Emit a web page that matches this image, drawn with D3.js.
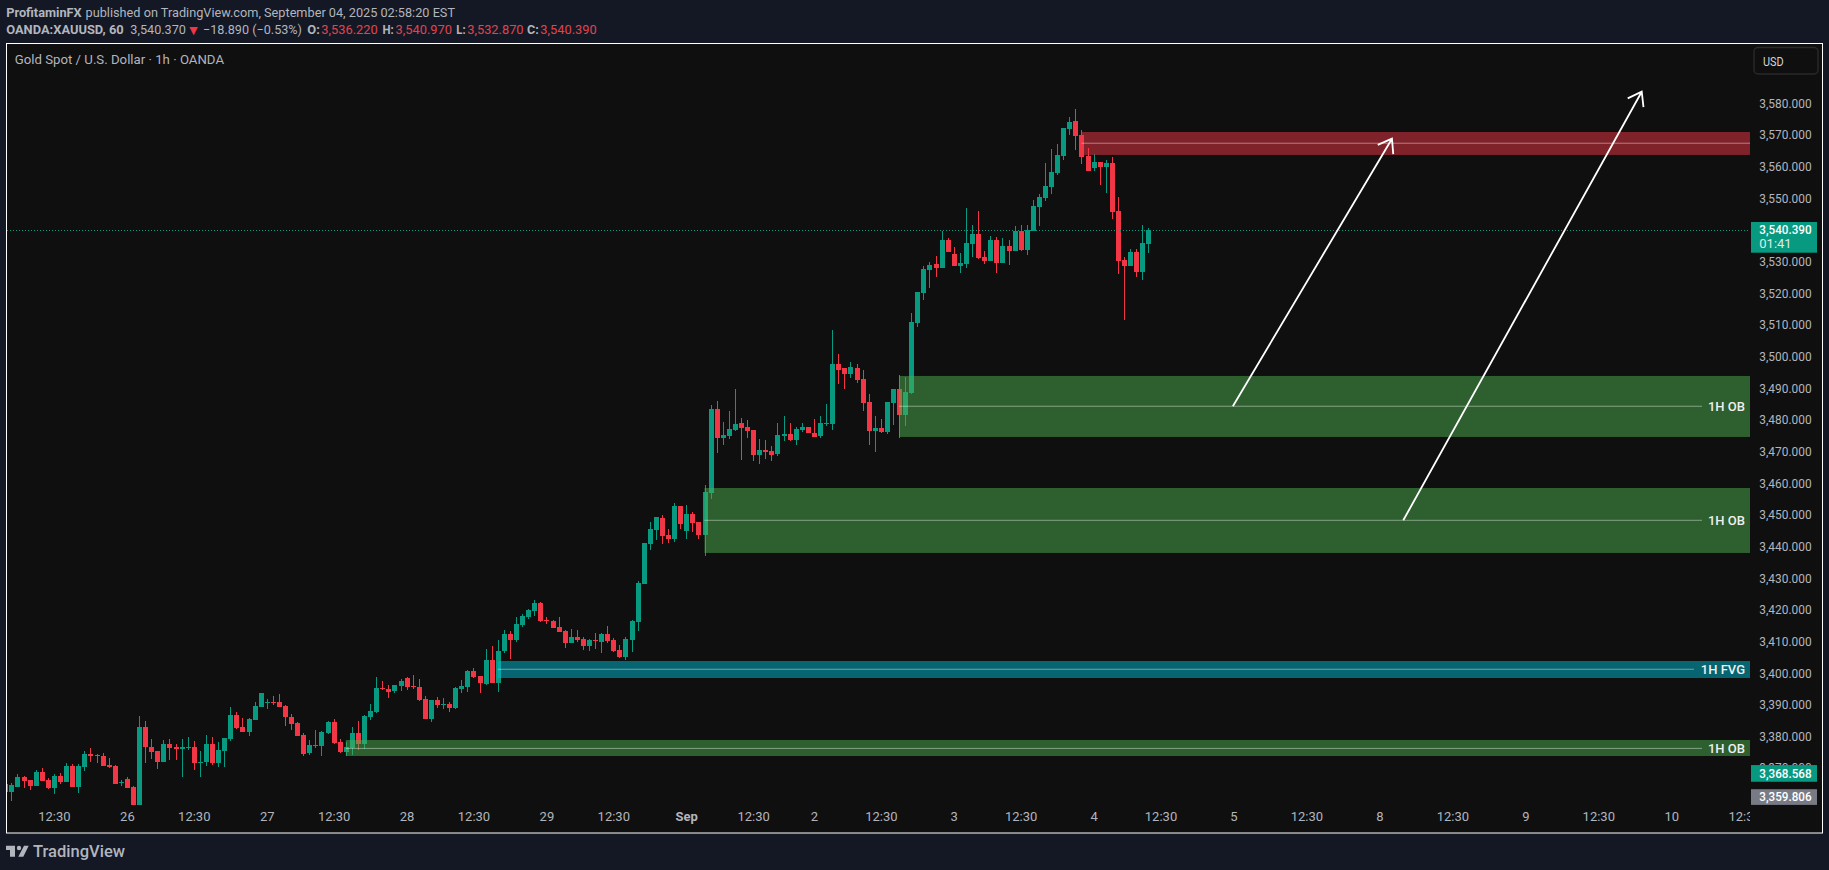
<!DOCTYPE html>
<html><head><meta charset="utf-8">
<script src="https://cdn.jsdelivr.net/npm/d3@7/dist/d3.min.js"></script>
<style>html,body{margin:0;padding:0;background:#131824;overflow:hidden}svg{display:block;font-family:Roboto,sans-serif}</style>
</head><body><svg id="c" width="1829" height="870"></svg>
<script>
const opens=[3365.4,3363.0,3364.5,3367.7,3366.7,3364.8,3369.2,3366.7,3364.2,3368.0,
3366.1,3371.1,3364.5,3370.8,3374.9,3374.7,3374.3,3371.5,3371.1,3365.8,
3367.0,3364.5,3358.8,3383.5,3377.1,3375.9,3372.4,3378.1,3377.1,3376.5,
3376.8,3377.1,3372.1,3372.4,3378.1,3372.1,3375.9,3379.7,3387.3,3383.5,
3381.9,3385.7,3389.8,3391.1,3391.4,3391.4,3390.1,3386.6,3384.7,3380.9,
3375.2,3377.5,3377.5,3381.6,3385.0,3378.7,3375.6,3376.8,3381.5,3378.1,
3386.6,3388.2,3395.8,3395.5,3394.8,3396.4,3398.9,3396.4,3396.1,3392.3,
3386.0,3392.0,3390.4,3390.7,3389.5,3395.5,3396.1,3401.1,3399.6,3397.0,
3404.6,3397.4,3407.5,3412.8,3410.9,3415.7,3418.2,3420.1,3422.6,3417.3,
3416.9,3415.0,3413.8,3410.0,3411.9,3411.3,3409.1,3410.9,3410.3,3412.8,
3410.9,3407.8,3405.6,3410.9,3416.6,3428.6,3441.3,3445.7,3449.5,3444.1,
3442.9,3453.3,3445.4,3450.8,3448.2,3444.1,3457.4,3484.0,3474.8,3475.4,
3477.3,3479.5,3478.3,3477.3,3469.4,3471.0,3470.7,3469.7,3475.4,3476.0,
3474.2,3477.3,3478.3,3476.4,3475.4,3479.2,3479.2,3498.2,3496.9,3495.0,
3496.9,3493.4,3486.2,3477.0,3477.9,3476.7,3485.8,3490.2,3482.1,3489.0,
3511.1,3520.6,3527.9,3529.7,3528.5,3537.3,3532.9,3529.1,3529.7,3536.1,
3539.2,3531.9,3530.7,3537.3,3530.1,3535.4,3533.8,3540.2,3534.2,3540.2,
3547.7,3550.6,3554.1,3558.5,3563.9,3572.4,3574.9,3570.5,3563.9,3560.1,
3562.0,3560.4,3561.7,3546.5,3531.0,3529.1,3533.5,3527.2,3536.1];
const highs=[3366.1,3365.8,3368.5,3368.1,3366.7,3370.0,3370.5,3367.3,3368.6,3368.9,
3372.0,3371.8,3371.8,3375.9,3376.8,3374.9,3375.2,3373.7,3371.5,3366.7,
3367.7,3364.8,3386.9,3385.3,3379.7,3375.9,3379.3,3379.7,3378.1,3379.7,
3380.3,3379.0,3375.9,3380.9,3380.3,3378.7,3380.0,3389.8,3388.2,3386.3,
3386.3,3391.4,3394.2,3392.3,3393.2,3393.9,3390.4,3387.6,3385.0,3381.6,
3379.3,3382.5,3382.2,3385.3,3386.0,3379.7,3378.7,3383.4,3385.3,3387.2,
3390.7,3399.2,3398.0,3396.7,3396.7,3398.6,3399.2,3399.9,3398.6,3393.2,
3392.0,3392.9,3392.6,3391.3,3396.1,3398.3,3401.5,3402.1,3399.6,3408.1,
3409.1,3410.9,3414.1,3413.8,3418.2,3419.2,3420.7,3423.6,3422.9,3418.2,
3417.3,3418.2,3414.1,3414.4,3414.1,3411.9,3411.3,3413.2,3413.2,3415.4,
3411.6,3409.4,3411.9,3417.3,3429.6,3441.6,3448.2,3449.8,3450.5,3446.0,
3454.2,3453.3,3453.6,3451.4,3448.2,3459.9,3485.2,3486.5,3479.8,3483.3,
3490.2,3481.1,3480.5,3477.3,3474.5,3474.2,3472.2,3479.5,3481.7,3479.5,
3478.3,3479.5,3478.3,3480.8,3481.7,3485.5,3508.9,3501.3,3496.9,3498.8,
3498.2,3496.3,3488.7,3481.7,3480.8,3486.2,3490.2,3494.7,3494.1,3514.3,
3520.9,3529.1,3530.4,3532.3,3540.2,3538.0,3535.1,3533.2,3547.4,3542.1,
3546.5,3533.8,3538.6,3538.3,3538.0,3537.3,3541.8,3542.1,3542.1,3550.0,
3551.9,3561.7,3566.1,3567.7,3572.7,3576.2,3578.7,3572.1,3566.4,3564.5,
3562.0,3562.6,3563.6,3550.9,3531.9,3534.5,3534.5,3542.1,3541.1];
const lows=[3362.5,3360.1,3364.5,3364.3,3363.6,3364.8,3366.4,3363.9,3362.3,3365.4,
3366.1,3364.5,3362.6,3369.6,3372.4,3372.1,3371.1,3370.5,3365.4,3364.8,
3364.2,3358.8,3358.8,3372.1,3373.3,3370.2,3372.4,3373.0,3373.0,3367.7,
3376.2,3369.9,3367.7,3371.1,3371.5,3370.8,3370.8,3379.0,3382.8,3381.9,
3380.6,3385.7,3389.8,3389.1,3390.4,3389.8,3383.8,3382.5,3380.6,3374.3,
3374.6,3376.8,3374.3,3381.2,3378.1,3375.2,3374.3,3374.6,3376.2,3376.5,
3385.7,3387.9,3395.2,3392.6,3394.2,3394.8,3395.2,3395.5,3391.7,3386.0,
3385.0,3389.5,3389.1,3388.2,3389.1,3394.2,3394.5,3398.9,3394.2,3396.7,
3397.4,3394.5,3406.8,3404.9,3410.3,3415.0,3417.6,3418.5,3416.6,3416.0,
3414.7,3413.5,3408.4,3410.0,3410.3,3407.8,3407.5,3408.1,3406.8,3410.0,
3407.1,3405.2,3404.6,3407.1,3413.8,3428.6,3439.4,3442.5,3441.3,3441.6,
3441.9,3446.0,3442.9,3445.1,3442.9,3437.5,3455.5,3470.0,3472.6,3474.5,
3477.0,3467.8,3474.8,3467.5,3466.6,3468.1,3467.5,3469.1,3473.8,3473.8,
3472.6,3476.7,3476.4,3475.1,3474.8,3478.6,3477.3,3491.8,3490.2,3493.7,
3492.2,3483.3,3472.6,3470.4,3476.4,3476.0,3478.9,3474.8,3478.6,3488.7,
3509.8,3518.4,3522.2,3525.6,3528.5,3533.5,3529.1,3526.9,3528.5,3531.9,
3531.3,3529.7,3530.7,3526.9,3530.1,3529.4,3533.8,3533.8,3532.6,3540.2,
3541.8,3549.6,3551.9,3557.9,3562.6,3570.5,3565.8,3561.3,3559.1,3559.1,
3554.7,3552.2,3544.0,3526.6,3512.1,3529.1,3525.6,3524.7,3533.2];
const closes=[3363.0,3365.1,3367.7,3366.4,3364.8,3369.2,3366.4,3364.2,3368.0,3366.1,
3371.1,3364.5,3371.1,3374.9,3374.3,3374.4,3371.1,3370.8,3365.4,3366.1,
3364.2,3358.8,3383.5,3377.1,3375.6,3372.4,3378.1,3376.8,3376.5,3377.1,
3377.1,3372.1,3372.4,3378.1,3372.1,3376.2,3380.0,3387.3,3383.1,3381.9,
3386.0,3390.1,3394.2,3391.4,3391.0,3389.8,3386.6,3384.4,3380.6,3374.9,
3377.8,3377.8,3381.9,3385.0,3378.4,3375.6,3377.1,3381.5,3378.1,3386.9,
3388.5,3395.8,3395.5,3394.5,3396.7,3398.0,3396.1,3396.1,3392.0,3386.0,
3392.0,3390.4,3390.7,3389.5,3395.8,3396.4,3401.1,3399.2,3397.4,3404.6,
3397.4,3407.5,3412.8,3410.9,3416.0,3418.5,3420.4,3422.6,3416.9,3416.9,
3414.7,3413.5,3410.0,3411.9,3410.9,3409.1,3410.9,3410.6,3412.8,3410.6,
3407.5,3405.6,3411.3,3416.9,3429.0,3441.6,3446.0,3449.8,3443.8,3442.9,
3453.3,3447.6,3450.8,3447.9,3444.1,3457.7,3484.0,3474.8,3475.7,3477.6,
3479.2,3477.9,3477.0,3469.4,3471.0,3470.4,3469.4,3475.7,3476.0,3474.2,
3477.6,3478.3,3476.4,3475.1,3479.5,3479.5,3498.2,3496.3,3495.0,3497.2,
3493.1,3485.8,3477.0,3477.9,3476.7,3486.2,3490.2,3482.1,3489.3,3511.4,
3520.9,3528.2,3529.4,3528.5,3537.3,3533.5,3529.1,3530.1,3536.4,3539.2,
3531.6,3530.7,3537.3,3530.1,3535.4,3533.8,3540.2,3534.2,3540.5,3548.1,
3550.9,3554.4,3558.8,3564.2,3572.7,3574.6,3570.2,3563.6,3559.1,3562.0,
3560.4,3561.7,3546.2,3530.7,3529.1,3533.5,3527.2,3536.4,3540.4];

const priceTicks=[3580,3570,3560,3550,3530,3520,3510,3500,3490,3480,3470,3460,3450,3440,3430,3420,3410,3400,3390,3380,3370];
const timeTickBars=[8,20,31,43,54,66,77,89,100,112,123,133,144,156,167,179,190,202,214,226,238,250,262,274,286];
const timeTickLabels=["12:30","26","12:30","27","12:30","28","12:30","29","12:30","Sep","12:30","2","12:30","3","12:30","4","12:30","5","12:30","8","12:30","9","12:30","10","12:30"];

const zoneStarts=[177,147,115,81,56];
const zoneTops=[3571.45,3494.37,3458.98,3404.31,3379.35];
const zoneBottoms=[3564.2,3475.09,3438.44,3398.94,3374.29];
const zoneMids=[3567.9,3484.8,3448.76,3401.7,3376.7];
const zoneLabels=["","1H OB","1H OB","1H FVG","1H OB"];
const zoneFills=["rgba(242,54,69,.5)","rgba(76,175,80,.5)","rgba(76,175,80,.5)","rgba(0,188,212,.5)","rgba(76,175,80,.5)"];

const arrowFromBar=[201.9,229.93], arrowFromPrice=[3484.8,3448.76];
const arrowToBar=[228.07,269.15], arrowToPrice=[3569.33,3584.18];

const lastPrice=3540.39, lastClock="01:41", tagGreen=3368.568, tagGray=3359.806;

const UP="#089981",DOWN="#f23645",TXT="#b2b5be";
const x=d3.scaleLinear().domain([0,300]).range([5.3,5.3+300*6.08]);
const y=d3.scaleLinear().domain([3580,3380]).range([230.3-39.61*3.165,230.3+160.39*3.165]);
const svg=d3.select("#c");
const defs=svg.append("defs");
defs.append("clipPath").attr("id","plot").append("rect").attr("x",7).attr("y",44).attr("width",1743).attr("height",789);

// chart panel
svg.append("rect").attr("x",6.5).attr("y",43.5).attr("width",1816).attr("height",789.5)
  .attr("fill","#0f0f0f").attr("stroke","#fff").attr("stroke-width",1);

// header
function t(txt,px,py,o={}){const e=svg.append("text").attr("x",px).attr("y",py).text(txt)
  .attr("font-size",o.s||12).attr("font-weight",o.w||400).attr("fill",o.c||TXT).attr("text-anchor",o.a||"start");
  if(o.l) e.attr("textLength",o.l).attr("lengthAdjust","spacingAndGlyphs");
  if(o.f) e.attr("font-family",o.f);
  return e;}
t("ProfitaminFX",6.2,16.5,{w:700,s:13,l:75.5});
t("published on TradingView.com, September 04, 2025 02:58:20 EST",85.6,16.5,{s:13,l:369.4});
t("OANDA:XAUUSD, 60",6.2,33.7,{w:700,s:13,l:117.5});
t("3,540.370",130.3,33.7,{s:13,l:55.7});
t("▼",189.3,33.5,{c:DOWN,s:11,f:"DejaVu Sans"});
t("−18.890 (−0.53%)",203,33.7,{s:13,l:99});
[["O:",307.3,"3,536.220",321.3,12.5],["H:",382.4,"3,540.970",395.6,11.3],["L:",456.3,"3,532.870",467.2,9.3],["C:",527,"3,540.390",540.3,11.8]].forEach(r=>{
  t(r[0],r[1],33.7,{w:700,s:13,l:r[4]}); t(r[2],r[3],33.7,{c:"#e0444e",s:13,l:56.4});
});
t("Gold Spot / U.S. Dollar · 1h · OANDA",14.8,64.3,{s:13,l:209.2});

// candles
const plot=svg.append("g").attr("clip-path","url(#plot)").attr("shape-rendering","crispEdges");
const bars=d3.range(opens.length);
const col=i=>closes[i]>=opens[i]?UP:DOWN;
const x0=i=>Math.round(x(i))-2;
plot.selectAll(".w").data(bars).join("rect").attr("class","w")
  .attr("x",i=>x0(i)+2).attr("width",1)
  .attr("y",i=>y(highs[i])).attr("height",i=>Math.max(1,y(lows[i])-y(highs[i]))).attr("fill",col);
plot.selectAll(".b").data(bars).join("rect").attr("class","b")
  .attr("x",x0).attr("width",5)
  .attr("y",i=>y(Math.max(opens[i],closes[i])))
  .attr("height",i=>Math.max(1,Math.abs(y(opens[i])-y(closes[i])))).attr("fill",col);

// last price line
svg.append("line").attr("x1",7).attr("x2",1750).attr("y1",Math.round(y(lastPrice))+0.5).attr("y2",Math.round(y(lastPrice))+0.5)
  .attr("stroke",UP).attr("stroke-width",1).attr("stroke-dasharray","1,2");

// zones
const zg=svg.append("g").attr("clip-path","url(#plot)");
zoneStarts.forEach((s,i)=>{
  const zx=x(s);
  zg.append("rect").attr("x",zx).attr("width",1750-zx).attr("y",y(zoneTops[i])).attr("height",y(zoneBottoms[i])-y(zoneTops[i])).attr("fill",zoneFills[i]);
  const lab=zoneLabels[i];
  const end=lab==="" ?1750:(lab==="1H FVG"?1694:1702);
  zg.append("line").attr("x1",zx).attr("x2",end).attr("y1",y(zoneMids[i])).attr("y2",y(zoneMids[i]))
    .attr("stroke","rgba(255,255,255,.42)").attr("stroke-width",1);
  if(lab) zg.append("text").attr("x",1745).attr("y",y(zoneMids[i])+4.4).attr("text-anchor","end")
    .attr("font-size",13).attr("font-weight",500).attr("fill","#eef0f0").text(lab);
});

// arrows
arrowFromBar.forEach((b,i)=>{
  const a=[x(b),y(arrowFromPrice[i])],c=[x(arrowToBar[i]),y(arrowToPrice[i])];
  const ang=Math.atan2(c[1]-a[1],c[0]-a[0]),L=15.5,sp=0.62;
  const h1=[c[0]-L*Math.cos(ang-sp),c[1]-L*Math.sin(ang-sp)],h2=[c[0]-L*Math.cos(ang+sp),c[1]-L*Math.sin(ang+sp)];
  svg.append("path").attr("d",d3.line()([a,c])+d3.line()([h1,c,h2])).attr("fill","none")
    .attr("stroke","#fff").attr("stroke-width",1.8);
});

// price axis
const axR=d3.axisRight(y).tickValues(priceTicks).tickSize(0).tickPadding(0).tickFormat(d3.format(",.3f"));
const gR=svg.append("g").attr("transform","translate(1759.3,-1.8)").call(axR);
gR.select(".domain").remove();
gR.selectAll("text").attr("font-family","Roboto,sans-serif").attr("font-size",13).attr("fill",TXT)
  .attr("textLength",52.3).attr("lengthAdjust","spacingAndGlyphs");

// time axis
const axB=d3.axisBottom(x).tickValues(timeTickBars).tickSize(0).tickPadding(0)
  .tickFormat((d,i)=>timeTickLabels[i]);
const gB=svg.append("g").attr("transform","translate(0,812)").attr("clip-path","url(#tclip)").call(axB);
defs.append("clipPath").attr("id","tclip").append("rect").attr("x",7).attr("y",-10).attr("width",1743).attr("height",30);
gB.select(".domain").remove();
gB.selectAll("text").attr("font-family","Roboto,sans-serif").attr("font-size",13).attr("fill",TXT)
  .attr("font-weight",(d,i)=>timeTickLabels[i]==="Sep"?700:400);

// price tags
function tag(price,cy,h,fill){
  svg.append("rect").attr("x",1751).attr("y",cy-h/2).attr("width",66).attr("height",h).attr("fill",fill);
  svg.append("text").attr("x",1759.3).attr("y",cy+4.3).attr("font-size",13).attr("font-weight",500).attr("fill","#fff")
    .attr("textLength",52.3).attr("lengthAdjust","spacingAndGlyphs").text(d3.format(",.3f")(price));
}
svg.append("rect").attr("x",1751).attr("y",y(lastPrice)-8.3).attr("width",66).attr("height",30.7).attr("fill",UP);
svg.append("text").attr("x",1759.3).attr("y",y(lastPrice)+3.5).attr("font-size",13).attr("font-weight",500).attr("fill","#fff")
  .attr("textLength",52.3).attr("lengthAdjust","spacingAndGlyphs").text(d3.format(",.3f")(lastPrice));
svg.append("text").attr("x",1759.3).attr("y",y(lastPrice)+18).attr("font-size",13).attr("fill","#d8efe9").text(lastClock);
tag(tagGreen,y(tagGreen)-0.7,16.7,UP);
tag(tagGray,y(tagGray)-4.8,15.7,"#787b86");

// USD button
svg.append("rect").attr("x",1754).attr("y",47.5).attr("width",64).attr("height",26.5).attr("rx",4)
  .attr("fill","#0f0f0f").attr("stroke","#2a2a2a").attr("stroke-width",1.4);
t("USD",1763,65.5,{s:13,c:"#d1d4dc",w:400,l:20.7});

// logo
svg.append("path").attr("fill","#b2b5be").attr("d","M6,845.7H15V856.7H10V850H6Z M24,845.7H28.7L23.3,856.7H18.3Z");
svg.append("circle").attr("fill","#b2b5be").attr("cx",19).attr("cy",848).attr("r",2.2);
t("TradingView",33,857,{s:17,w:500,c:"#b2b5be",l:92});
</script></body></html>
